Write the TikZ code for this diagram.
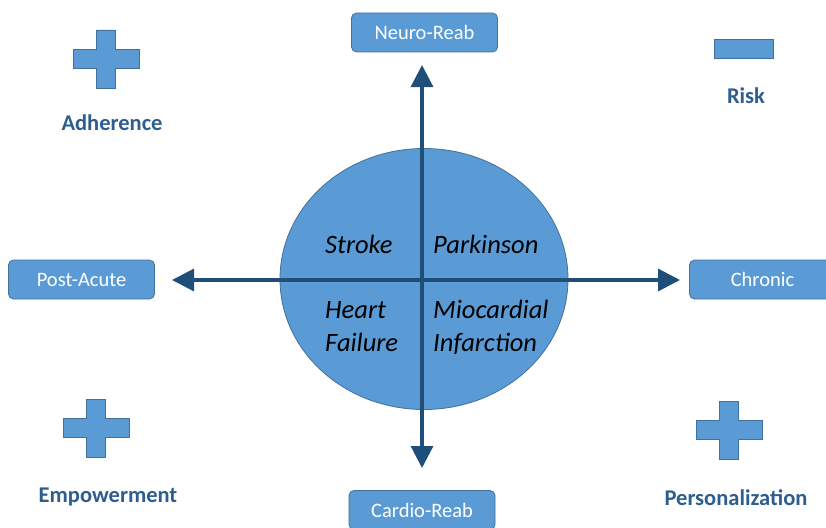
\documentclass[tikz,border=0pt]{standalone}
\usepackage{fontspec}
\setmainfont{Carlito}
\usetikzlibrary{arrows.meta,shapes.geometric}
\definecolor{boxfill}{HTML}{5B9BD5}
\definecolor{boxline}{HTML}{41719C}
\definecolor{axiscol}{HTML}{1F4E79}
\definecolor{labcol}{HTML}{2E5E8E}
\tikzset{
  tagbox/.style={draw=boxline, line width=0.8pt, fill=boxfill, rounded corners=5pt,
    minimum width=146pt, minimum height=39pt, inner sep=0pt, text=white,
    font=\fontsize{20.5}{24}\selectfont},
  sidelab/.style={text=labcol, font=\fontsize{22.5}{26}\selectfont\bfseries},
  quadtxt/.style={anchor=base west, inner sep=0pt, font=\fontsize{26.5}{30}\selectfont\itshape},
  axisarrow/.style={draw=axiscol, line width=3.2pt, {Triangle[length=22pt,width=22pt]}-{Triangle[length=22pt,width=22pt]}},
  shapest/.style={draw=boxline, line width=0.8pt, fill=boxfill},
  plusicon/.pic={\path[shapest] (-9.5,-29) -- (9.5,-29) -- (9.5,-9.5) -- (33,-9.5) -- (33,9.5) -- (9.5,9.5) -- (9.5,29) -- (-9.5,29) -- (-9.5,9.5) -- (-33,9.5) -- (-33,-9.5) -- (-9.5,-9.5) -- cycle;}
}
\begin{document}
\begin{tikzpicture}[x=1pt,y=-1pt]
\useasboundingbox (0,0) rectangle (826,527);
\clip (0,0) rectangle (826,527);
% central ellipse
\node[ellipse, draw=boxline, line width=0.8pt, fill=boxfill, minimum width=288pt, minimum height=261pt, inner sep=0pt] (ell) at (424,279) {};
% boxes
\node[tagbox] (neuro) at (424.5,32.5) {Neuro-Reab};
\node[tagbox] (cardio) at (422,510) {Cardio-Reab};
\node[tagbox] (post) at (81.5,279.5) {Post-Acute};
\node[tagbox] (chronic) at (762.5,279.5) {Chronic};
% axes
\coordinate (vtop) at (422,65);
\coordinate (vbot) at (422,468);
\coordinate (hleft) at (172,280);
\coordinate (hright) at (680,280);
\draw[axisarrow] (vtop) -- (vbot);
\draw[axisarrow] (hleft) -- (hright);
% quadrant labels
\node[quadtxt] (stroke) at (325,253) {Stroke};
\node[quadtxt] (park) at (433,253) {Parkinson};
\node[quadtxt] (heart) at (325,318) {Heart};
\node[quadtxt] (fail) at (325,351) {Failure};
\node[quadtxt] (mio) at (433,318) {Miocardial};
\node[quadtxt] (inf) at (433,351) {Infarction};
% icons
\pic at (106,59) {plusicon};
\pic at (96,428) {plusicon};
\pic at (729,430) {plusicon};
\path[shapest] (714,39) rectangle (773,58);
% side labels
\node[sidelab] (adh) at (112,123) {Adherence};
\node[sidelab] (risk) at (746,96) {Risk};
\node[sidelab] (emp) at (108,497) {Empowerment};
\node[sidelab] (pers) at (736,498) {Personalization};
\end{tikzpicture}
\end{document}
